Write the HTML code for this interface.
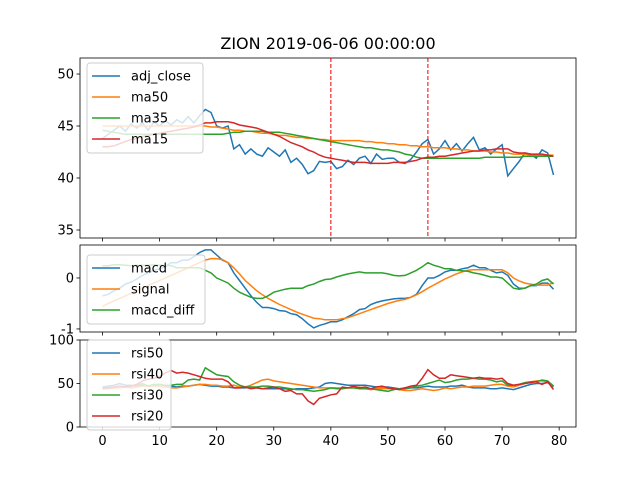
<!DOCTYPE html>
<html><head><meta charset="utf-8"><style>
body{margin:0;background:#fff;}
svg{font-family:"DejaVu Sans","Liberation Sans",sans-serif;}
</style></head><body>
<svg id="c" width="640" height="480" xmlns="http://www.w3.org/2000/svg"></svg>
<script>
const idx=[...Array(80).keys()];
const adjClose=[43.8,44.2,44.6,45.0,44.5,45.2,44.8,45.3,44.6,45.4,45.0,45.5,45.1,45.6,45.3,45.9,45.3,46.0,46.6,46.3,45.0,44.8,45.0,42.8,43.2,42.3,42.8,42.3,42.1,42.9,42.5,42.1,42.7,41.5,41.9,41.3,40.4,40.7,41.6,41.5,41.6,40.9,41.1,41.7,41.3,41.9,42.1,41.4,42.3,41.8,41.9,41.9,41.5,41.4,41.8,42.5,43.3,43.7,42.3,42.8,43.6,42.7,43.3,42.6,43.3,43.9,42.7,42.9,42.3,42.8,43.2,40.2,40.9,41.6,42.4,42.3,41.9,42.7,42.4,40.3];
const ma50=[45.0,45.0,45.0,45.0,45.0,45.0,45.0,45.0,45.0,45.0,45.0,45.0,45.0,45.0,45.0,45.0,45.0,45.0,45.0,44.9,44.9,44.8,44.7,44.6,44.6,44.5,44.5,44.4,44.3,44.3,44.2,44.1,44.1,44.0,43.9,43.9,43.8,43.8,43.7,43.7,43.6,43.6,43.6,43.6,43.6,43.6,43.5,43.5,43.4,43.4,43.3,43.3,43.2,43.2,43.1,43.1,43.0,43.0,42.9,42.9,42.9,42.8,42.8,42.7,42.7,42.6,42.6,42.6,42.5,42.5,42.4,42.4,42.3,42.3,42.3,42.2,42.2,42.2,42.2,42.2];
const ma35=[44.6,44.5,44.4,44.3,44.2,44.2,44.2,44.2,44.2,44.2,44.2,44.2,44.2,44.2,44.2,44.2,44.2,44.2,44.2,44.2,44.2,44.2,44.3,44.4,44.4,44.5,44.5,44.5,44.5,44.4,44.4,44.4,44.3,44.2,44.1,44.0,43.9,43.8,43.7,43.6,43.5,43.4,43.3,43.2,43.1,43.0,42.9,42.9,42.8,42.7,42.7,42.6,42.5,42.3,42.2,42.0,41.9,41.9,41.9,41.9,41.9,41.9,41.9,41.9,41.9,41.9,41.9,42.0,42.0,42.0,42.0,42.0,42.0,42.0,42.1,42.1,42.1,42.1,42.1,42.1];
const ma15=[43.0,43.0,43.1,43.3,43.5,43.7,43.8,44.0,44.1,44.2,44.3,44.4,44.5,44.6,44.7,44.8,44.9,45.1,45.3,45.3,45.4,45.4,45.4,45.3,45.1,45.0,44.9,44.8,44.6,44.4,44.2,44.0,43.7,43.4,43.2,43.0,42.7,42.5,42.2,42.0,41.9,41.8,41.7,41.6,41.5,41.5,41.5,41.4,41.4,41.4,41.4,41.5,41.5,41.5,41.6,41.7,41.9,42.0,42.0,42.1,42.1,42.2,42.3,42.4,42.5,42.6,42.6,42.7,42.7,42.8,42.8,42.8,42.5,42.4,42.4,42.3,42.3,42.3,42.2,42.1];
const macd=[-0.35,-0.32,-0.25,-0.2,-0.12,-0.08,-0.02,0.05,0.1,0.15,0.18,0.22,0.3,0.3,0.35,0.35,0.42,0.5,0.55,0.55,0.45,0.35,0.3,0.1,-0.05,-0.2,-0.35,-0.48,-0.58,-0.58,-0.6,-0.64,-0.65,-0.7,-0.72,-0.8,-0.9,-0.98,-0.93,-0.9,-0.86,-0.86,-0.82,-0.76,-0.7,-0.62,-0.6,-0.52,-0.48,-0.45,-0.43,-0.41,-0.4,-0.4,-0.38,-0.32,-0.15,0.0,0.0,0.05,0.12,0.15,0.15,0.18,0.2,0.25,0.2,0.2,0.15,0.1,0.12,0.05,-0.12,-0.2,-0.2,-0.15,-0.15,-0.1,-0.1,-0.22];
const signal=[-0.56,-0.5,-0.45,-0.4,-0.35,-0.3,-0.25,-0.2,-0.15,-0.1,-0.05,0.0,0.05,0.1,0.15,0.2,0.25,0.3,0.35,0.38,0.38,0.36,0.3,0.2,0.08,-0.05,-0.15,-0.25,-0.33,-0.4,-0.46,-0.52,-0.57,-0.62,-0.67,-0.71,-0.75,-0.79,-0.8,-0.82,-0.82,-0.82,-0.8,-0.78,-0.74,-0.7,-0.66,-0.62,-0.58,-0.54,-0.5,-0.47,-0.44,-0.42,-0.38,-0.33,-0.27,-0.2,-0.14,-0.08,-0.02,0.03,0.08,0.12,0.15,0.16,0.16,0.16,0.16,0.16,0.16,0.1,0.0,-0.06,-0.1,-0.12,-0.14,-0.14,-0.14,-0.09];
const macdDiff=[0.24,0.24,0.26,0.26,0.25,0.24,0.25,0.25,0.25,0.26,0.25,0.25,0.24,0.2,0.2,0.2,0.2,0.2,0.15,0.1,0.0,-0.05,-0.1,-0.2,-0.28,-0.33,-0.38,-0.4,-0.4,-0.35,-0.28,-0.25,-0.22,-0.2,-0.2,-0.2,-0.15,-0.12,-0.07,-0.03,-0.02,0.02,0.05,0.08,0.1,0.12,0.1,0.1,0.1,0.1,0.08,0.05,0.04,0.05,0.1,0.15,0.22,0.3,0.25,0.22,0.18,0.18,0.15,0.14,0.13,0.1,0.08,0.05,0.02,0.02,0.0,-0.1,-0.2,-0.22,-0.2,-0.15,-0.12,-0.05,-0.02,-0.12];
const rsi50=[46,47,48,50,48,48,47,48,47,48,47,47,47,46,47,47,48,49,48,47,47,46,46,45,45,45,46,45,44,44,44,44,44,43,44,44,44,45,46,50,51,50,49,48,48,48,48,47,46,46,46,45,44,44,45,45,46,47,46,46,46,47,47,48,46,45,45,45,44,44,45,44,43,45,47,49,50,50,51,46];
const rsi40=[44,44,45,45,46,45,46,47,47,47,47,46,45,45,46,47,48,49,49,48,48,47,47,48,46,46,48,51,54,55,53,52,51,50,49,48,47,46,45,45,45,45,45,45,45,46,44,43,44,44,44,44,43,42,42,43,44,43,42,43,45,44,45,46,46,47,47,47,48,49,49,47,46,48,50,52,53,53,52,47];
const rsi30=[45,45,46,47,46,47,48,50,47,49,49,48,48,49,49,54,55,54,68,64,60,59,58,52,48,46,46,46,47,47,46,46,45,44,43,43,42,41,42,43,45,44,44,45,45,44,44,44,43,42,41,43,44,45,45,47,48,50,52,54,51,52,54,55,55,56,55,55,54,52,53,48,48,49,51,52,52,54,53,47];
const rsi20=[44,45,46,47,46,47,49,53,55,56,58,62,65,62,63,62,60,58,56,55,55,55,52,45,45,46,44,45,44,45,46,44,41,42,38,38,30,26,33,35,37,38,46,45,47,45,46,44,46,47,45,44,43,45,47,48,56,66,60,56,56,60,59,58,57,56,57,56,56,55,56,50,48,49,50,51,52,49,52,43];

const S='http://www.w3.org/2000/svg';
const svg=document.getElementById('c');
function el(t,a,p){const e=document.createElementNS(S,t);for(const k in a)e.setAttribute(k,a[k]);(p||svg).appendChild(e);return e;}
const X0=80,X1=576,xmin=-3.95,xmax=82.95;
const xs=v=>X0+(v-xmin)/(xmax-xmin)*(X1-X0);
const C={blue:'#1f77b4',orange:'#ff7f0e',green:'#2ca02c',red:'#d62728'};

function panel(name,top,bot,ymin,ymax,yticks,series,legend,showX){
  const ys=v=>bot-(v-ymin)/(ymax-ymin)*(bot-top);
  const g=el('g',{});
  
  
  series.forEach(s=>{
    const p=el('polyline',{points:s.d.map((v,i)=>xs(idx[i]).toFixed(1)+','+ys(v).toFixed(1)).join(' '),fill:'none',stroke:s.c,'stroke-width':1.5},g);
    
    
  });
  el('rect',{x:X0,y:top,width:X1-X0,height:bot-top,fill:'none',stroke:'#000','stroke-width':0.8},g);
  yticks.forEach(t=>{
    const y=ys(t);
    el('line',{x1:X0-3.5,x2:X0,y1:y,y2:y,stroke:'#000','stroke-width':0.8},g);
    const tx=el('text',{x:X0-6,y:y+4.5,'text-anchor':'end','font-size':13},g);tx.textContent=t;
    
    
  });
  for(let t=0;t<=80;t+=10){
    const x=xs(t);
    el('line',{x1:x,x2:x,y1:bot,y2:bot+3.5,stroke:'#000','stroke-width':0.8},g);
    if(showX){const tx=el('text',{x:x,y:bot+18,'text-anchor':'middle','font-size':13},g);tx.textContent=t;
      
      }
  }
  const lg=el('g',{},g);
  
  
  el('rect',{x:87,y:legend.y,width:legend.w,height:series.length*21+6,rx:3,fill:'#fff','fill-opacity':0.8,stroke:'#ccc','stroke-width':1},lg);
  series.forEach((s,i)=>{
    const yy=legend.y+13+i*21;
    el('line',{x1:92,x2:120,y1:yy,y2:yy,stroke:s.c,'stroke-width':1.5},lg);
    const t=el('text',{x:131,y:yy+4.5,'font-size':13},lg);t.textContent=s.n;
    
    
  });
  return ys;
}
panel('price',58,238,34.23,51.54,[35,40,45,50],[
 {n:'adj_close',d:adjClose,c:C.blue},{n:'ma50',d:ma50,c:C.orange},{n:'ma35',d:ma35,c:C.green},{n:'ma15',d:ma15,c:C.red}],{y:63,w:116},false);
[40,57].forEach(v=>{const l=el('line',{x1:xs(v),x2:xs(v),y1:58,y2:238,stroke:'#e00','stroke-width':1,'stroke-dasharray':'4,2'});
 
 });
panel('macd',245,332,-1.06,0.647,[-1,0],[
 {n:'macd',d:macd,c:C.blue},{n:'signal',d:signal,c:C.orange},{n:'macd_diff',d:macdDiff,c:C.green}],{y:255,w:118},false);
panel('rsi',340,427,0,100,[0,50,100],[
 {n:'rsi50',d:rsi50,c:C.blue},{n:'rsi40',d:rsi40,c:C.orange},{n:'rsi30',d:rsi30,c:C.green},{n:'rsi20',d:rsi20,c:C.red}],{y:340,w:84},true);
const tt=el('text',{x:328,y:49,'text-anchor':'middle','font-size':16});tt.textContent='ZION 2019-06-06 00:00:00';


</script>
</body></html>
